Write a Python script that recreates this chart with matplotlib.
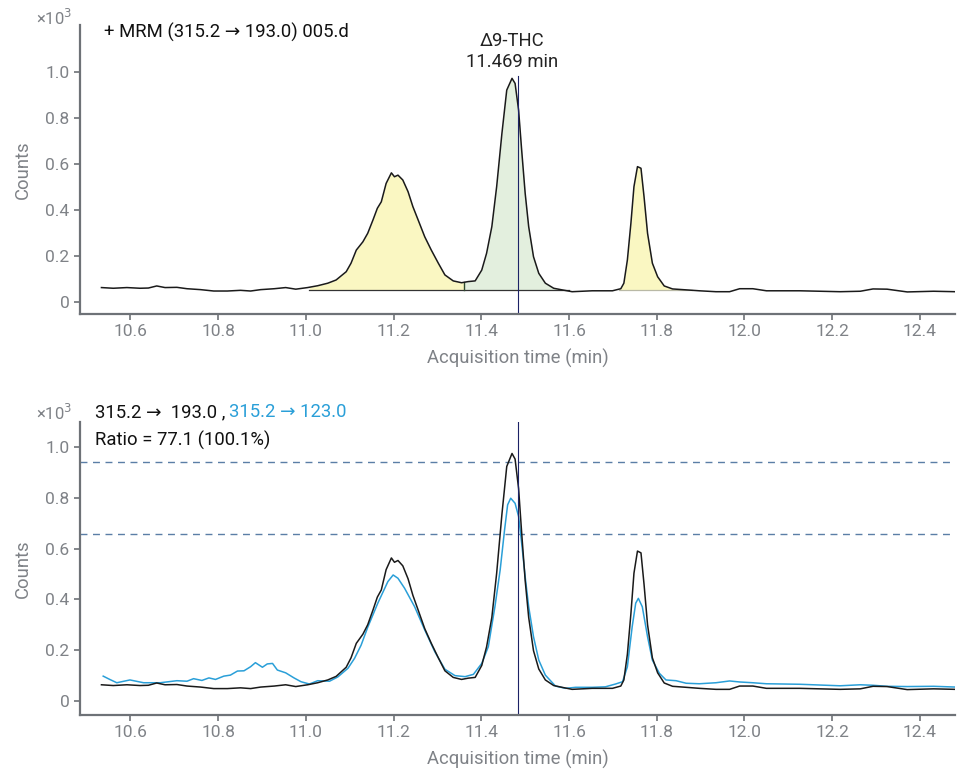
import numpy as np
import matplotlib
matplotlib.use("Agg")
import matplotlib.pyplot as plt

plt.rcParams["font.family"] = ["Roboto", "DejaVu Sans"]

# 315.2 -> 193.0 trace (counts x10^3)
t_193 = [10.534, 10.561, 10.592, 10.622, 10.641, 10.660, 10.679, 10.706, 10.729, 10.760,
         10.790, 10.821, 10.851, 10.874, 10.897, 10.928, 10.954, 10.977, 11.004, 11.027,
         11.050, 11.069, 11.092, 11.103, 11.115, 11.130, 11.141, 11.153, 11.163, 11.172,
         11.183, 11.195, 11.202, 11.210, 11.221, 11.233, 11.244, 11.256, 11.271, 11.286,
         11.302, 11.317, 11.336, 11.355, 11.370, 11.386, 11.401, 11.412, 11.424, 11.435,
         11.447, 11.458, 11.470, 11.477, 11.485, 11.492, 11.500, 11.508, 11.519, 11.531,
         11.546, 11.565, 11.584, 11.607, 11.653, 11.699, 11.718, 11.725, 11.733, 11.741,
         11.748, 11.756, 11.764, 11.771, 11.779, 11.790, 11.802, 11.817, 11.836, 11.867,
         11.897, 11.935, 11.966, 11.989, 12.019, 12.050, 12.126, 12.218, 12.264, 12.293,
         12.325, 12.371, 12.431, 12.481]
y_193 = [0.064, 0.061, 0.064, 0.061, 0.062, 0.071, 0.064, 0.065, 0.059, 0.055,
         0.049, 0.049, 0.052, 0.049, 0.055, 0.059, 0.064, 0.057, 0.064, 0.072,
         0.083, 0.097, 0.133, 0.170, 0.227, 0.263, 0.300, 0.358, 0.409, 0.437,
         0.517, 0.563, 0.546, 0.553, 0.532, 0.481, 0.416, 0.358, 0.285, 0.227,
         0.170, 0.119, 0.093, 0.085, 0.090, 0.093, 0.140, 0.213, 0.329, 0.503,
         0.735, 0.923, 0.974, 0.952, 0.836, 0.662, 0.474, 0.329, 0.198, 0.126,
         0.083, 0.061, 0.054, 0.046, 0.050, 0.050, 0.059, 0.083, 0.184, 0.343,
         0.503, 0.590, 0.583, 0.459, 0.300, 0.170, 0.111, 0.071, 0.058, 0.054,
         0.050, 0.046, 0.046, 0.059, 0.059, 0.050, 0.050, 0.046, 0.048, 0.058,
         0.057, 0.045, 0.048, 0.046]

# 315.2 -> 123.0 qualifier trace
t_123 = [10.538, 10.553, 10.569, 10.599, 10.630, 10.668, 10.706, 10.729, 10.744, 10.763,
         10.779, 10.794, 10.813, 10.828, 10.844, 10.859, 10.874, 10.885, 10.901, 10.912,
         10.924, 10.935, 10.954, 10.973, 10.989, 11.008, 11.027, 11.054, 11.073, 11.096,
         11.111, 11.126, 11.141, 11.164, 11.187, 11.199, 11.210, 11.225, 11.248, 11.271,
         11.294, 11.317, 11.340, 11.363, 11.382, 11.401, 11.416, 11.431, 11.443, 11.453,
         11.460, 11.467, 11.477, 11.485, 11.492, 11.500, 11.508, 11.519, 11.531, 11.546,
         11.569, 11.592, 11.615, 11.653, 11.683, 11.706, 11.722, 11.733, 11.744, 11.752,
         11.758, 11.767, 11.779, 11.790, 11.806, 11.821, 11.844, 11.867, 11.897, 11.935,
         11.966, 11.989, 12.019, 12.050, 12.126, 12.218, 12.264, 12.293, 12.325, 12.371,
         12.431, 12.481]
y_123 = [0.098, 0.085, 0.072, 0.083, 0.072, 0.072, 0.080, 0.078, 0.088, 0.081,
         0.091, 0.085, 0.098, 0.102, 0.118, 0.119, 0.135, 0.151, 0.133, 0.146,
         0.148, 0.122, 0.111, 0.091, 0.076, 0.067, 0.080, 0.078, 0.095, 0.129,
         0.168, 0.220, 0.290, 0.385, 0.470, 0.496, 0.483, 0.444, 0.371, 0.280,
         0.194, 0.125, 0.100, 0.096, 0.105, 0.148, 0.214, 0.371, 0.516, 0.673,
         0.772, 0.798, 0.778, 0.726, 0.621, 0.489, 0.371, 0.253, 0.161, 0.102,
         0.059, 0.050, 0.054, 0.054, 0.056, 0.067, 0.076, 0.135, 0.293, 0.385,
         0.404, 0.371, 0.253, 0.161, 0.109, 0.083, 0.080, 0.070, 0.068, 0.072,
         0.079, 0.075, 0.072, 0.068, 0.066, 0.060, 0.064, 0.062, 0.058, 0.057,
         0.058, 0.055]

# integration regions (start, end) and baseline level
peak_regions = [(11.008, 11.361), (11.361, 11.600), (11.715, 11.880)]
peak_colors = ["#FAF7C2", "#E3EFDE", "#FAF7C2"]
int_base = 0.053
rt_label = "Δ9-THC\n11.469 min"
rt_apex = 11.469
rt_marker = 11.483
ratio_limits = [0.940, 0.656]

x_ticks = [10.6, 10.8, 11.0, 11.2, 11.4, 11.6, 11.8, 12.0, 12.2, 12.4]
y_ticks = [0, 0.2, 0.4, 0.6, 0.8, 1.0]

GRAY = "#7f8287"
SPINE = "#6e7277"
BLUE = "#2A9FD8"
NAVY = "#1c2266"
FS = 13.3

fig = plt.figure(figsize=(9.61, 7.70), dpi=100)
ax1 = fig.add_axes([0.0832, 0.5922, 0.9106, 0.3753])
ax2 = fig.add_axes([0.0832, 0.0714, 0.9106, 0.3806])


def style(ax, ylim):
    ax.set_xlim(10.485, 12.48)
    ax.set_ylim(*ylim)
    for s in ["top", "right"]:
        ax.spines[s].set_visible(False)
    for s in ["left", "bottom"]:
        ax.spines[s].set_color(SPINE)
        ax.spines[s].set_linewidth(1.6)
    ax.set_xticks(x_ticks)
    ax.set_xticklabels([f"{v:.1f}" for v in x_ticks])
    ax.set_yticks(y_ticks)
    ax.set_yticklabels(["0" if v == 0 else f"{v:.1f}" for v in y_ticks])
    ax.tick_params(colors=SPINE, labelcolor=GRAY, labelsize=12.5, length=4, width=1.2)
    ax.set_xlabel("Acquisition time (min)", color=GRAY, fontsize=FS, labelpad=7)
    ax.set_ylabel("Counts", color=GRAY, fontsize=FS, labelpad=10)


style(ax1, (-0.051, 1.206))
style(ax2, (-0.055, 1.098))

t = np.array(t_193)
y = np.array(y_193)

# top panel: integrated peaks
for (a, b), c in zip(peak_regions, peak_colors):
    m = (t > a) & (t < b)
    xs = np.concatenate([[a], t[m], [b]])
    ys = np.concatenate([[np.interp(a, t, y)], y[m], [np.interp(b, t, y)]])
    ax1.fill_between(xs, int_base, ys, where=ys >= int_base, color=c, lw=0, interpolate=True)
ax1.plot([peak_regions[0][0], peak_regions[1][1]], [int_base, int_base], color="#333333", lw=0.9)
ax1.plot([peak_regions[2][0], peak_regions[2][1]], [int_base, int_base], color="#b9b9a6", lw=0.9)
ax1.plot([peak_regions[0][1]] * 2, [int_base, np.interp(peak_regions[0][1], t, y)],
         color="#2f4a2f", lw=1.0)
ax1.plot(t_193, y_193, color="#1a1a1a", lw=1.1)
ax1.plot([rt_marker, rt_marker], [-0.051, 0.985], color=NAVY, lw=0.8)
ax1.text(rt_apex, 1.005, rt_label, ha="center", va="bottom", fontsize=FS,
         color="#222222", linespacing=1.25)
ax1.text(0.028, 0.975, "+ MRM (315.2 → 193.0) 005.d", transform=ax1.transAxes,
         ha="left", va="center", fontsize=FS, color="#111111")

# bottom panel: quantifier + qualifier overlay
for lv in ratio_limits:
    ax2.axhline(lv, color="#5b7ea6", lw=1.0, ls=(0, (5, 4)))
ax2.plot(t_123, y_123, color=BLUE, lw=1.1)
ax2.plot(t_193, y_193, color="#1a1a1a", lw=1.1)
ax2.axvline(rt_marker, color=NAVY, lw=0.8)

fig.text(95 / 961, 1 - 412 / 770, "315.2 →  193.0 ,", ha="left", va="center",
         fontsize=FS, color="#111111")
fig.text(229 / 961, 1 - 412 / 770, "315.2 → 123.0", ha="left", va="center",
         fontsize=FS, color=BLUE)
fig.text(95 / 961, 1 - 440 / 770, "Ratio = 77.1 (100.1%)", ha="left", va="center",
         fontsize=FS, color="#111111")

for yy in (18, 413):
    fig.text(72 / 961, 1 - yy / 770, "×10$^{3}$", ha="right", va="center",
             fontsize=12, color=GRAY)

fig.savefig("out.png", dpi=100)
